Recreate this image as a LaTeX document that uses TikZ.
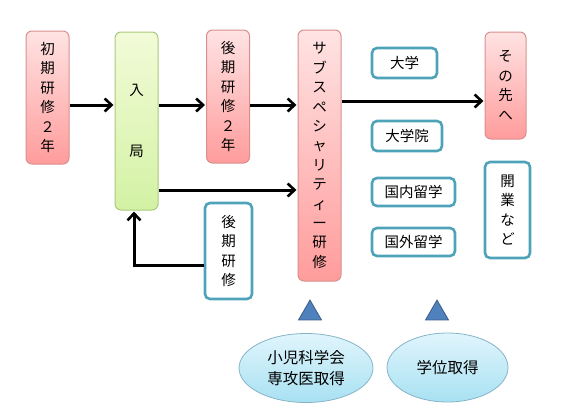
\documentclass[tikz,border=0pt]{standalone}
\usepackage{fontspec}
\setmainfont{Noto Sans CJK JP}
\usetikzlibrary{arrows.meta, positioning, shapes.geometric}
\definecolor{pinktop}{HTML}{FFE3E3}
\definecolor{pinkbot}{HTML}{FF9C9C}
\definecolor{pinkline}{HTML}{D98F8D}
\definecolor{greentop}{HTML}{F2FBD8}
\definecolor{greenbot}{HTML}{D3F2A4}
\definecolor{greenline}{HTML}{A9C97A}
\definecolor{tealline}{HTML}{4EA3B8}
\definecolor{skytop}{HTML}{E0F5FC}
\definecolor{skybot}{HTML}{A8E1F2}
\definecolor{skyline}{HTML}{86B4C8}
\definecolor{trifill}{HTML}{4F81BD}
\definecolor{triline}{HTML}{385D8A}

\begin{document}
\begin{tikzpicture}[
  x=1pt, y=-1pt,
  >={Straight Barb[length=7pt, width=13pt, line width=2.6pt]},
  stage/.style={draw=pinkline, line width=1pt, top color=pinktop, bottom color=pinkbot,
    rounded corners=6pt, minimum width=43pt, minimum height=#1, inner sep=0pt,
    align=center, font=\fontsize{14.5}{19.4}\selectfont},
  entry/.style={draw=greenline, line width=1pt, top color=greentop, bottom color=greenbot,
    rounded corners=6pt, minimum width=43pt, minimum height=#1, inner sep=0pt,
    align=center, font=\fontsize{14.5}{19.4}\selectfont},
  option/.style={draw=tealline, line width=2.6pt, fill=white, rounded corners=5pt,
    inner sep=0pt, align=center, font=\fontsize{14.5}{19.4}\selectfont},
  goal/.style={ellipse, draw=skyline, line width=0.8pt, top color=skytop, bottom color=skybot,
    inner sep=0pt, align=center, font=\fontsize{15.5}{20.5}\selectfont},
  mark3/.style={regular polygon, regular polygon sides=3, minimum size=26.5pt, inner sep=0pt,
    fill=trifill, draw=triline, line width=0.8pt},
  arr/.style={->, line width=3pt, black, shorten >=1pt},
]

\useasboundingbox (0,0) rectangle (562,415);

% rows of the arrows
\coordinate (row1) at (0,105);
\coordinate (row2) at (0,190);
\coordinate (row3) at (0,265);
\coordinate (row4) at (0,101);

% =============================================
% Main flow
% =============================================
\node[stage=133pt] (shoki) at (47.5,97.5)
  {初\\期\\研\\修\\２\\年};

\node[entry=178pt] (nyukyoku) at (136.5,121)
  {入\\[41pt]局};

\node[stage=133pt] (koki) at (228,96.5)
  {後\\期\\研\\修\\２\\年};

\node[stage=251pt] (sub) at (319.5,155.5)
  {サ\\ブ\\ス\\ペ\\シ\\ャ\\リ\\テ\\ィ\\ー\\研\\修};

\node[stage=107pt, minimum width=41pt] (sonosaki) at (505.5,85.5)
  {そ\\の\\先\\へ};

% =============================================
% Options (teal boxes)
% =============================================
\node[option, minimum width=47pt, minimum height=96pt] (koki2) at (228.5,251)
  {後\\期\\研\\修};

\node[option, minimum width=65pt, minimum height=30pt] (daigaku) at (404.5,63) {大学};
\node[option, minimum width=70pt, minimum height=30pt] (daigakuin) at (407,136) {大学院};
\node[option, minimum width=83pt, minimum height=28pt] (kokunai) at (413.5,192) {国内留学};
\node[option, minimum width=83pt, minimum height=28pt] (kokugai) at (413.5,242) {国外留学};

\node[option, minimum width=45pt, minimum height=96pt] (kaigyo) at (507.5,210)
  {開\\業\\な\\ど};

% =============================================
% Arrows
% =============================================
\draw[arr] (shoki.east |- row1) -- (nyukyoku.west |- row1);
\draw[arr] (nyukyoku.east |- row1) -- (koki.west |- row1);
\draw[arr] (koki.east |- row1) -- (sub.west |- row1);
\draw[arr] (nyukyoku.east |- row2) -- (sub.west |- row2);
\draw[arr] (sub.east |- row4) -- (sonosaki.west |- row4);
\draw[arr] (koki2.west |- row3) -| ([xshift=-2.5pt]nyukyoku.south);

% =============================================
% Qualifications
% =============================================
\node[mark3] (tri1) at (310,313.3) {};
\node[mark3] (tri2) at (437,313.3) {};

\node[goal, minimum width=134pt, minimum height=69pt] (senmon) at (306,368)
  {小児科学会\\専攻医取得};
\node[goal, minimum width=121pt, minimum height=69pt] (gakui) at (447.5,367.5)
  {学位取得};

\end{tikzpicture}
\end{document}
